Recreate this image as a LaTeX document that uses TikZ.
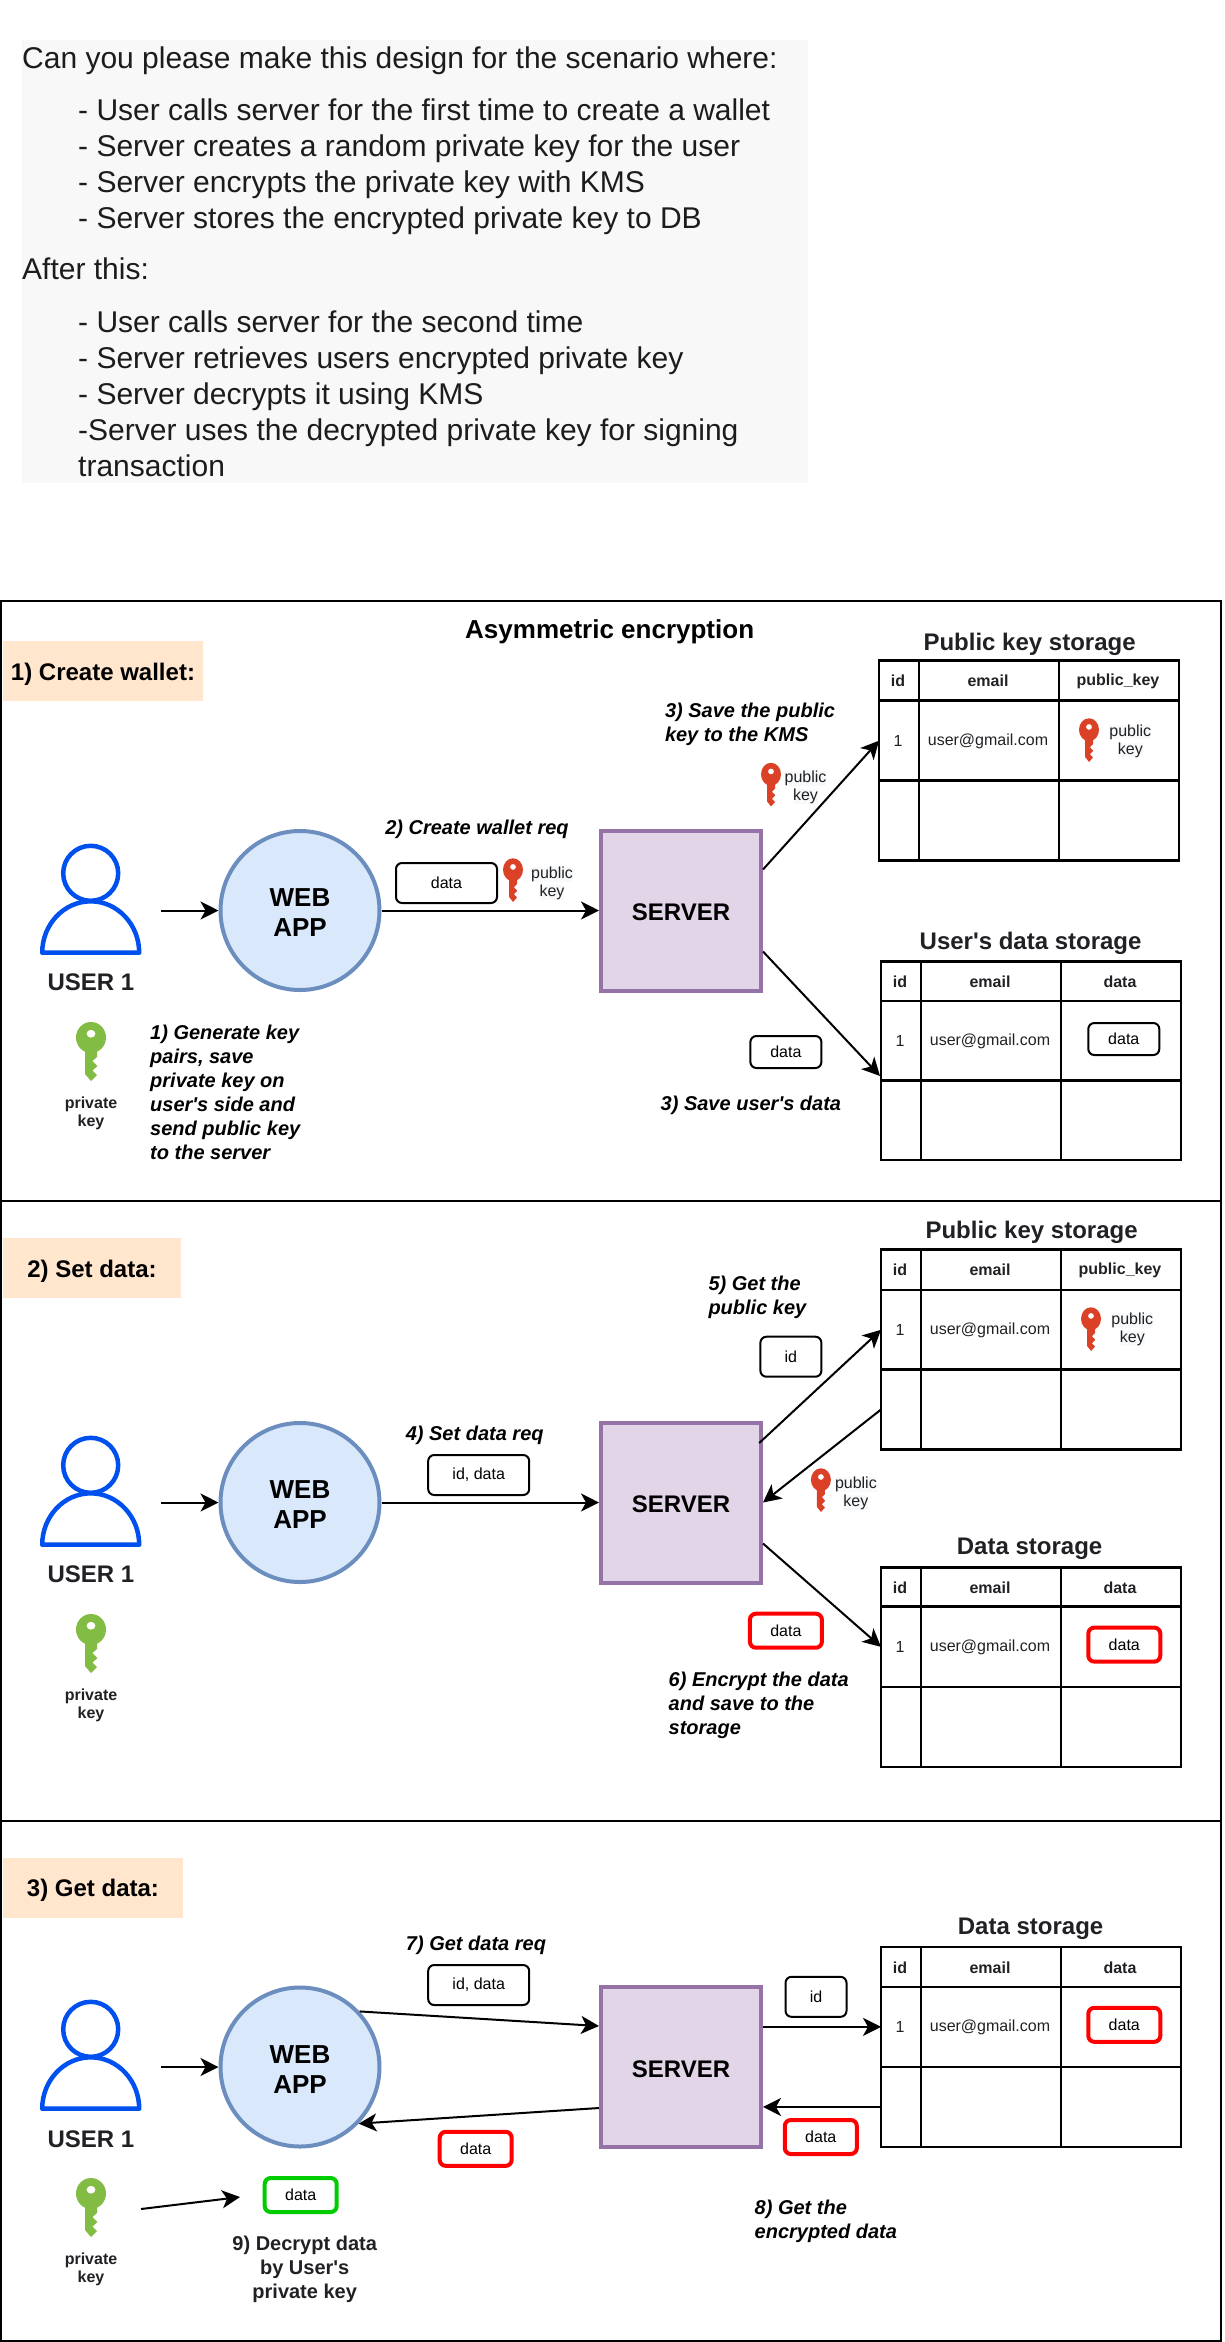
\documentclass[tikz,border=0pt]{standalone}
\usepackage{fontspec}
\setmainfont{Liberation Sans}
\usepackage{xcolor}
\usetikzlibrary{arrows.meta,calc}
\definecolor{ink}{HTML}{202124}
\definecolor{slack}{HTML}{1D1C1D}
\definecolor{panel}{HTML}{F8F8F8}
\definecolor{peach}{HTML}{FFE6CC}
\definecolor{userblue}{HTML}{0050EF}
\definecolor{webfill}{HTML}{DAE8FC}
\definecolor{webline}{HTML}{6C8EBF}
\definecolor{srvfill}{HTML}{E1D5E7}
\definecolor{srvline}{HTML}{9673A6}
\definecolor{keygreen}{HTML}{82BC45}
\definecolor{keyred}{HTML}{DB4127}
\definecolor{hilite}{HTML}{F8F9FA}
\setlength{\fboxsep}{0pt}
\tikzset{
	qline/.style={anchor=base west,inner sep=0pt,text=slack,font=\fontsize{30}{36}\selectfont},
	frame/.style={draw=black,line width=2.5pt},
	secbox/.style={fill=peach,inner sep=0pt,minimum height=60pt,text height=23.5pt,font=\fontsize{24}{30}\selectfont\bfseries},
	title/.style={inner sep=0pt,yshift=-3pt,text=ink,font=\fontsize{24}{28}\selectfont\bfseries},
	usrtxt/.style={title,yshift=1.5pt},
	webapp/.style={circle,draw=webline,fill=webfill,line width=4pt,minimum size=159pt,inner sep=0pt,align=center,font=\fontsize{26}{30}\selectfont\bfseries},
	server/.style={draw=srvline,fill=srvfill,line width=4pt,minimum size=160pt,inner sep=0pt,text height=20.6pt,font=\fontsize{24}{28}\selectfont\bfseries},
	note/.style={inner sep=0pt,yshift=-2pt,align=left,anchor=west,font=\fontsize{20}{24}\selectfont\bfseries\itshape},
	keytxt/.style={inner sep=0pt,yshift=-2pt,align=center,text=ink,font=\fontsize{16}{18}\selectfont},
	privtxt/.style={keytxt,font=\fontsize{16}{18}\selectfont\bfseries},
	celltxt/.style={inner sep=0pt,yshift=-1.5pt,text=ink,font=\fontsize{16}{18}\selectfont},
	headtxt/.style={inner sep=0pt,yshift=-1.5pt,text=ink,font=\fontsize{16}{18}\selectfont\bfseries},
	tabline/.style={draw=black,line width=2.5pt},
	dbox/.style={draw=black,line width=2pt,rounded corners=6pt,inner sep=0pt,font=\fontsize{16}{18}\selectfont},
	rbox/.style={dbox,draw=red,line width=4pt},
	arr/.style={draw=black,line width=2pt,-{Stealth[length=18pt,width=18pt,inset=5pt]}},
}
\newcommand{\usericon}[2]{%
	\begin{scope}[shift={(#1,#2)}]
		\draw[userblue,line width=4.5pt] (0,0) circle (27.5);
		\draw[userblue,line width=4.5pt,line join=round] (-48.5,79.4) .. controls (-48.5,51.2) and (-26.8,28) .. (0,28) .. controls (26.8,28) and (48.5,51.2) .. (48.5,79.4) -- cycle;
	\end{scope}}
\newcommand{\keyicon}[5]{%
	\begin{scope}[shift={(#1,#2)},xscale=#3/30,yscale=#4/58]
		\fill[#5,even odd rule] (0,14.5) ellipse (15 and 15.5) (0,10.7) ellipse (4.5 and 4);
		\fill[#5] (-6,26) -- (-6,51) -- (0,58) -- (6,52) -- (1.5,47.5) -- (6.5,43) -- (1.5,38) -- (6,34) -- (6,26) -- cycle;
	\end{scope}}
\newcommand{\pubtext}{\colorbox{hilite}{public}\\\colorbox{hilite}{key}}
\newcommand{\storagetab}[7]{%
	\draw[tabline] (#2,#3) rectangle (#2+300,#6);
	\draw[tabline] (#2+40,#3) -- (#2+40,#6);
	\draw[tabline] (#2+180,#3) -- (#2+180,#6);
	\draw[tabline] (#2,#4) -- (#2+300,#4);
	\draw[tabline] (#2,#5) -- (#2+300,#5);
	\node[headtxt] (#1id) at (#2+19,{(#3+#4)/2-1}) {id};
	\node[headtxt] (#1mail) at (#2+109,{(#3+#4)/2-1}) {email};
	\node[headtxt] (#1last) at (#2+239,{(#3+#4)/2-1}) {#7};
	\node[celltxt] (#1one) at (#2+19,{(#4+#5)/2-1}) {1};
	\node[celltxt] (#1user) at (#2+109,{(#4+#5)/2-1}) {user@gmail.com};
	\coordinate (#1rowa) at (#2,{(#4+#5)/2});
	\coordinate (#1rowb) at (#2,{(#5+#6)/2});}
\begin{document}
\begin{tikzpicture}[x=1pt,y=-1pt]
	\useasboundingbox (0,0) rectangle (1224,2342);
	\fill[panel] (22,40) rectangle (808,483);
	\node[qline] (q1) at (22,68) {Can you please make this design for the scenario where:};
	\node[qline] (q2) at (78,120) {- User calls server for the first time to create a wallet};
	\node[qline] (q3) at (78,156) {- Server creates a random private key for the user};
	\node[qline] (q4) at (78,192) {- Server encrypts the private key with KMS};
	\node[qline] (q5) at (78,228) {- Server stores the encrypted private key to DB};
	\node[qline] (q6) at (22,279) {After this:};
	\node[qline] (q7) at (78,332) {- User calls server for the second time};
	\node[qline] (q8) at (78,368) {- Server retrieves users encrypted private key};
	\node[qline] (q9) at (78,404) {- Server decrypts it using KMS};
	\node[qline] (q10) at (78,440) {-Server uses the decrypted private key for signing};
	\node[qline] (q11) at (78,476) {transaction};

	\draw[frame] (0.8,601) rectangle (1221,1201);
	\draw[frame] (0.8,1201) rectangle (1221,1821);
	\draw[frame] (0.8,1821) rectangle (1221,2341);

	\node[inner sep=0pt,yshift=-1.5pt,font=\fontsize{26}{30}\selectfont\bfseries] (mainttl) at (609.7,630) {Asymmetric encryption};
	\node[secbox,minimum width=200pt] (sec1) at (103,671) {1) Create wallet:};
	\usericon{90.7}{873.3}
	\node[usrtxt] (usr1) at (91,981) {USER 1};
	\keyicon{91}{1023}{30}{58}{keygreen}
	\node[privtxt] (priv1) at (91,1111) {private\\key};
	\node[note] (n1) at (150,1090.6) {1) Generate key\\pairs, save\\private key on\\user\textquotesingle s side and\\send public key\\to the server};
	\node[webapp] (web1) at (300,910.5) {\rule{0pt}{22pt}WEB\\APP};
	\node[server] (srv1) at (681,910.5) {SERVER};
	\coordinate (uout1) at (161,910.5);
	\draw[arr] (uout1) -- (web1);
	\draw[arr] (web1) -- (srv1);
	\node[note,anchor=center] (n2) at (477,827) {2) Create wallet req};
	\node[dbox,minimum width=101pt,minimum height=40pt] (d1) at (446.5,883) {data};
	\keyicon{513}{859}{20}{43}{keyred}
	\node[keytxt] (pk1) at (552,881.5) {\pubtext};
	\storagetab{ta}{879}{660.7}{700.7}{780.7}{860.7}{public\_key}
	\node[title] (tta) at (1029.6,641) {Public key storage};
	\keyicon{1089}{719}{20}{43}{keyred}
	\node[keytxt] (pka) at (1130.3,739) {\pubtext};
	\storagetab{tb}{881}{961.5}{1001}{1080.5}{1160}{data}
	\node[title] (ttb) at (1030.6,940) {User\textquotesingle s data storage};
	\node[dbox,minimum width=71pt,minimum height=32pt] (db) at (1123.8,1039) {data};
	\node[note] (n3) at (664.8,722.7) {3) Save the public\\key to the KMS};
	\keyicon{771}{763.5}{20}{43}{keyred}
	\node[keytxt] (pk2) at (805.5,785.3) {\pubtext};
	\coordinate (tbin) at (880,1076);
	\draw[arr] ($(srv1.north east)!.25!(srv1.south east)$) -- (tarowa);
	\draw[arr] ($(srv1.north east)!.75!(srv1.south east)$) -- (tbin);
	\node[dbox,minimum width=71pt,minimum height=32pt] (d2) at (785.9,1052) {data};
	\node[note] (n4) at (660.5,1103) {3) Save user\textquotesingle s data};

	\node[secbox,minimum width=178pt] (sec2) at (92,1268) {2) Set data:};
	\usericon{90.7}{1465.3}
	\node[usrtxt] (usr2) at (91,1573) {USER 1};
	\keyicon{91}{1615}{30}{58}{keygreen}
	\node[privtxt] (priv2) at (91,1703) {private\\key};
	\node[webapp] (web2) at (300,1502.5) {\rule{0pt}{22pt}WEB\\APP};
	\node[server] (srv2) at (681,1502.5) {SERVER};
	\coordinate (uout2) at (161,1502.5);
	\draw[arr] (uout2) -- (web2);
	\draw[arr] (web2) -- (srv2);
	\node[note,anchor=center] (n5) at (474.7,1433) {4) Set data req};
	\node[dbox,minimum width=101pt,minimum height=40pt] (d3) at (478.7,1475) {id, data};
	\storagetab{tc}{881}{1249.5}{1290}{1369.6}{1449.4}{public\_key}
	\node[title] (ttc) at (1031.6,1229.6) {Public key storage};
	\keyicon{1091}{1308}{20}{43}{keyred}
	\node[keytxt] (pkc) at (1132.3,1327.5) {\pubtext};
	\storagetab{td}{881}{1567.6}{1606.7}{1687}{1766.8}{data}
	\node[title] (ttd) at (1029.6,1546) {Data storage};
	\node[rbox,minimum width=72pt,minimum height=34pt] (dd) at (1124.3,1644.6) {data};
	\node[note] (n6) at (708.3,1295) {5) Get the\\public key};
	\node[dbox,minimum width=61pt,minimum height=40pt] (d4) at (790.9,1356.7) {id};
	\coordinate (sout2) at (759.2,1443);
	\draw[arr] (sout2) -- (tcrowa);
	\draw[arr] (tcrowb) -- (srv2.east);
	\draw[arr] ($(srv2.north east)!.75!(srv2.south east)$) -- (tdrowa);
	\keyicon{820.9}{1469}{20}{43}{keyred}
	\node[keytxt] (pk3) at (855.9,1491.5) {\pubtext};
	\node[rbox,minimum width=72pt,minimum height=34pt] (d5) at (785.9,1630.7) {data};
	\node[note] (n7) at (668.5,1703) {6) Encrypt the data\\and save to the\\storage};

	\node[secbox,minimum width=180pt] (sec3) at (93,1887.7) {3) Get data:};
	\usericon{90.7}{2029.3}
	\node[usrtxt] (usr3) at (91,2137.5) {USER 1};
	\keyicon{91}{2179}{30}{58}{keygreen}
	\node[privtxt] (priv3) at (91,2267.5) {private\\key};
	\node[webapp] (web3) at (300,2067) {\rule{0pt}{22pt}WEB\\APP};
	\node[server] (srv3) at (681,2067) {SERVER};
	\coordinate (uout3) at (161,2067);
	\draw[arr] (uout3) -- (web3);
	\draw[arr] (web3.43) -- ($(srv3.north west)!.25!(srv3.south west)$);
	\draw[arr] ($(srv3.north west)!.75!(srv3.south west)$) -- (web3.-44);
	\node[note,anchor=center] (n8) at (476,1943.4) {7) Get data req};
	\node[dbox,minimum width=101pt,minimum height=40pt] (d6) at (478.7,1985) {id, data};
	\node[rbox,minimum width=72pt,minimum height=34pt] (d7) at (475.7,2148.8) {data};
	\node[rbox,draw=green!80!black,minimum width=72pt,minimum height=34pt] (d8) at (300.7,2195) {data};
	\coordinate (kout3) at (141,2209);
	\coordinate (kin3) at (240,2197);
	\draw[arr] (kout3) -- (kin3);
	\node[inner sep=0pt,yshift=-2pt,align=center,text=ink,font=\fontsize{20}{24}\selectfont\bfseries] (n9) at (304.7,2267) {9) Decrypt data\\by User\textquotesingle s\\private key};
	\storagetab{te}{881}{1947}{1986.8}{2066.9}{2147}{data}
	\node[title] (tte) at (1030.6,1926) {Data storage};
	\node[rbox,minimum width=72pt,minimum height=34pt] (de) at (1124.3,2024.8) {data};
	\draw[arr] (srv3.east |- terowa) -- (terowa);
	\draw[arr] (terowb) -- (srv3.east |- terowb);
	\node[dbox,minimum width=61pt,minimum height=40pt] (d9) at (816,1996.8) {id};
	\node[rbox,minimum width=72pt,minimum height=34pt] (d10) at (820.8,2137) {data};
	\node[note] (n10) at (754.5,2219) {8) Get the\\encrypted data};
\end{tikzpicture}
\end{document}
